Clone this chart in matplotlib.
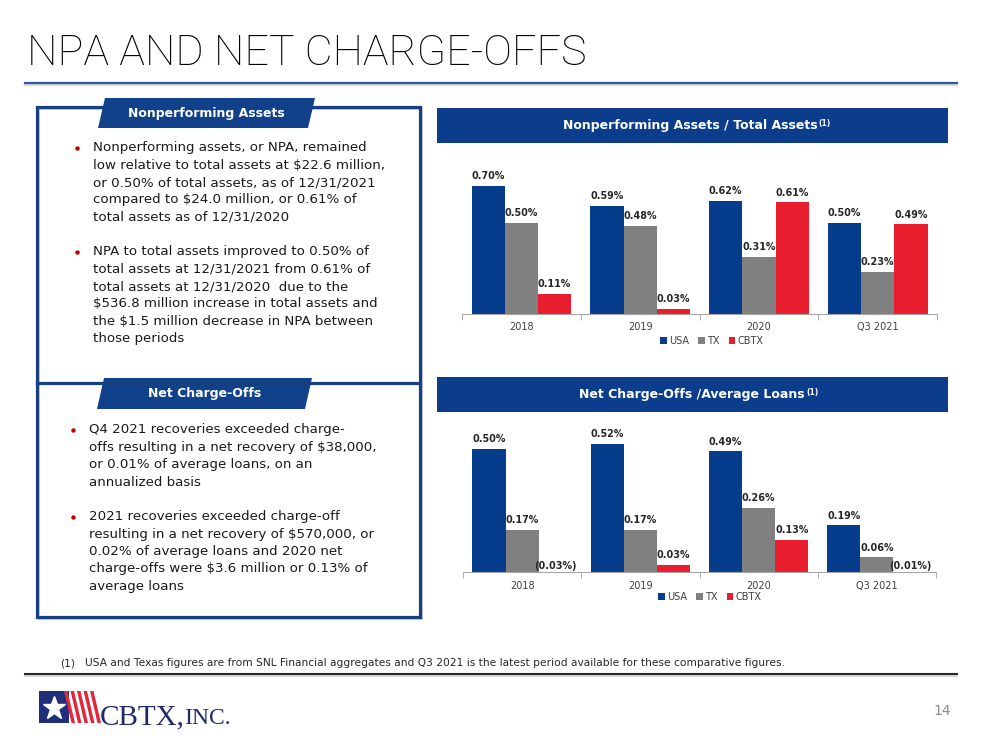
import numpy as np
import matplotlib
matplotlib.use("Agg")
import matplotlib.pyplot as plt
from matplotlib.patches import Rectangle, Polygon

# Daten aus der Folie
categories = ["2018", "2019", "2020", "Q3 2021"]
series_names = ["USA", "TX", "CBTX"]
npa_usa = [0.70, 0.59, 0.62, 0.50]
npa_tx = [0.50, 0.48, 0.31, 0.23]
npa_cbtx = [0.11, 0.03, 0.61, 0.49]
nco_usa = [0.50, 0.52, 0.49, 0.19]
nco_tx = [0.17, 0.17, 0.26, 0.06]
nco_cbtx = [-0.03, 0.03, 0.13, -0.01]

title = "NPA AND NET CHARGE-OFFS"
npa_chart_title = "Nonperforming Assets / Total Assets"
nco_chart_title = "Net Charge-Offs /Average Loans"
npa_heading = "Nonperforming Assets"
nco_heading = "Net Charge-Offs"
npa_bullets = [
    ["Nonperforming assets, or NPA, remained",
     "low relative to total assets at $22.6 million,",
     "or 0.50% of total assets, as of 12/31/2021",
     "compared to $24.0 million, or 0.61% of",
     "total assets as of 12/31/2020"],
    ["NPA to total assets improved to 0.50% of",
     "total assets at 12/31/2021 from 0.61% of",
     "total assets at 12/31/2020  due to the",
     "$536.8 million increase in total assets and",
     "the $1.5 million decrease in NPA between",
     "those periods"],
]
nco_bullets = [
    ["Q4 2021 recoveries exceeded charge-",
     "offs resulting in a net recovery of $38,000,",
     "or 0.01% of average loans, on an",
     "annualized basis"],
    ["2021 recoveries exceeded charge-off",
     "resulting in a net recovery of $570,000, or",
     "0.02% of average loans and 2020 net",
     "charge-offs were $3.6 million or 0.13% of",
     "average loans"],
]
footnote = ("USA and Texas figures are from SNL Financial aggregates and Q3 2021 "
            "is the latest period available for these comparative figures.")
page_number = "14"

NAVY = "#063c8c"
GREY = "#808080"
RED = "#e81d2d"
BAND = "#0b3d8c"
colors = [NAVY, GREY, RED]

plt.rcParams["font.family"] = "DejaVu Sans"
W, H = 999, 750
fig = plt.figure(figsize=(W / 100, H / 100), dpi=100)

# Hintergrund-Achse in Pixelkoordinaten
bg = fig.add_axes([0, 0, 1, 1])
bg.set_xlim(0, W)
bg.set_ylim(H, 0)
bg.axis("off")
bg.set_zorder(0)


def px_axes(left, top, right, bottom):
    ax = fig.add_axes([left / W, 1 - bottom / H, (right - left) / W, (bottom - top) / H])
    ax.set_zorder(1)
    ax.set_facecolor("none")
    return ax


def fmt(v):
    return f"{v:.2f}%" if v >= 0 else f"({-v:.2f}%)"


def draw_bars(ax, usa, tx, cbtx, ymax, legend_xy):
    x = np.arange(len(categories))
    w = 0.28
    for off, vals, col, name in zip([-w, 0, w], [usa, tx, cbtx], colors, series_names):
        ax.bar(x + off, vals, w, color=col, label=name)
        for xi, v in zip(x + off, vals):
            ax.annotate(fmt(v), (xi, max(v, 0)), xytext=(0, 3.5 if v > 0 else 1),
                        textcoords="offset points", ha="center", va="bottom",
                        fontsize=6.9, fontweight="bold", color="#262626",
                        annotation_clip=False)
    ax.set_xlim(-0.5, len(categories) - 0.5)
    # negative Werte liegen unter der Grundlinie und bleiben unsichtbar
    ax.set_ylim(0, ymax)
    for s in ["top", "right", "left"]:
        ax.spines[s].set_visible(False)
    ax.spines["bottom"].set_color("#a6a6a6")
    ax.set_yticks([])
    ax.set_xticks(x)
    ax.set_xticklabels(categories, fontsize=7, color="#404040")
    ax.tick_params(axis="x", which="major", length=0, pad=6)
    ax.set_xticks(np.arange(len(categories) + 1) - 0.5, minor=True)
    ax.tick_params(axis="x", which="minor", length=4, color="#a6a6a6")
    ax.legend(loc="center", bbox_to_anchor=(legend_xy[0] / W, 1 - legend_xy[1] / H),
              bbox_transform=fig.transFigure, ncol=3, frameon=False, fontsize=7,
              handlelength=0.7, handleheight=0.7, handletextpad=0.25,
              columnspacing=0.9, labelcolor="#404040", borderpad=0)


ax1 = px_axes(462, 314 - 0.8 * 182.9, 937, 314)
draw_bars(ax1, npa_usa, npa_tx, npa_cbtx, 0.8, (712, 341))

ax2 = px_axes(463, 572.3 - 0.58 * 246.7, 936, 572.3)
draw_bars(ax2, nco_usa, nco_tx, nco_cbtx, 0.58, (710, 597))

# Titel und Linien
bg.text(27, 65, title, fontsize=31, family="Roboto", fontweight="light", va="baseline", color="black")
bg.plot([25, 957], [85, 85], color="#d9d9d9", lw=1.5)
bg.plot([25, 957], [83, 83], color="#2f5d9b", lw=1.6)
bg.plot([25, 957], [676, 676], color="#d9d9d9", lw=1.5)
bg.plot([25, 957], [674, 674], color="#262626", lw=1.5)

# Kopfbalken der Diagramme
for (y0, y1), text, cx in [((108, 143), npa_chart_title, 690), ((377, 412), nco_chart_title, 692)]:
    bg.add_patch(Rectangle((437, y0), 511, y1 - y0, color=BAND, lw=0))
    t = bg.text(cx, (y0 + y1) / 2, text, color="white", fontsize=9, fontweight="bold",
                ha="center", va="center")
    bg.annotate("(1)", xy=(1, 1), xycoords=t, xytext=(1, 0), textcoords="offset points",
                ha="left", va="top", color="white", fontsize=5.5, fontweight="bold")

# Linker Kasten
bg.add_patch(Rectangle((39, 109), 383, 510, fill=False, ec="#d0d0d0", lw=1.5))
bg.add_patch(Rectangle((37, 107), 383, 510, fill=False, ec="#17407f", lw=2.3))
bg.plot([37, 420], [383, 383], color="#17407f", lw=2.3)

for (top, bot), heading, (xl, xr) in [((98, 128), npa_heading, (98, 315)),
                                      ((378, 409), nco_heading, (97, 312))]:
    bg.add_patch(Polygon([(xl + 7, top), (xr, top), (xr - 7, bot), (xl, bot)],
                         closed=True, color="#12418c", lw=0))
    bg.text((xl + xr) / 2, (top + bot) / 2 + 0.5, heading, color="white", fontsize=9,
            fontweight="bold", ha="center", va="center")


def draw_bullets(bullets, starts, tx, bx, step=17.4):
    for lines, y0 in zip(bullets, starts):
        bg.plot(bx, y0, "o", ms=2.2, color="#c00000")
        for i, line in enumerate(lines):
            bg.text(tx, y0 + i * step, line, fontsize=9.6, color="#1a1a1a",
                    va="center", ha="left", parse_math=False)


draw_bullets(npa_bullets, [147.7, 251.7], 93, 77)
draw_bullets(nco_bullets, [430, 516.7], 89, 73)

# Fussnote
bg.text(60, 663, "(1)", fontsize=7.7, color="#262626", va="center")
bg.text(85, 663, footnote, fontsize=7.7, color="#262626", va="center", parse_math=False)

# Logo
bg.add_patch(Rectangle((39, 691), 30, 32, color="#1f2f7a", lw=0))
for i in range(5):
    x0 = 64 + i * 6.5
    bg.add_patch(Polygon([(x0, 691), (x0 + 3.5, 691), (x0 + 11, 723), (x0 + 7.5, 723)],
                         closed=True, color="#e0283a", lw=0))
bg.plot(54, 708, marker="*", ms=17, color="white", mec="white")
bg.text(100, 724, "CBTX,", fontsize=21, family="Liberation Serif", color="#1f2a6b", va="baseline")
bg.text(184, 724, "INC.", fontsize=17, family="Liberation Serif", color="#1f2a6b", va="baseline")

bg.text(951, 711, page_number, fontsize=10, color="#8c8c8c", ha="right", va="center")

fig.savefig("out.png", dpi=100)
